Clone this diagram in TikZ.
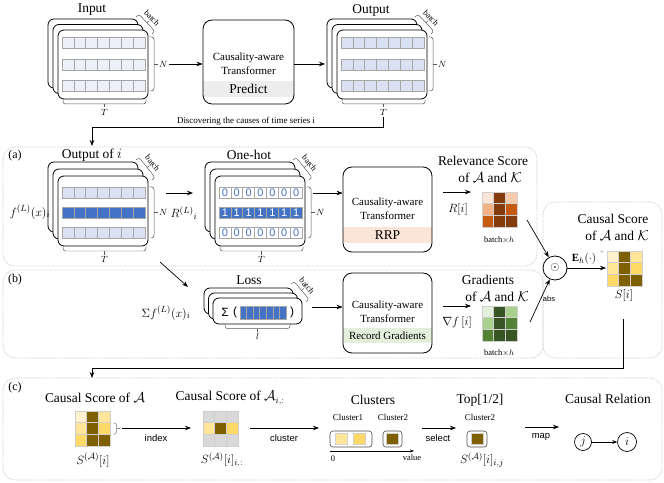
\documentclass[tikz,border=0pt]{standalone}
\usepackage{fontspec}
\setmainfont{Liberation Serif}
\newfontfamily\mysansfam{Liberation Sans}
\usetikzlibrary{arrows.meta,calc,fit}
\definecolor{inpcell}{HTML}{EDF0F7}
\definecolor{outcell}{HTML}{DAE1F3}
\definecolor{dblue}{HTML}{4472C4}
\definecolor{cellborder}{HTML}{A6A6A6}
\definecolor{predband}{HTML}{EDEDED}
\definecolor{rrpband}{HTML}{FBE5D6}
\definecolor{gradband}{HTML}{E2EFDA}
\definecolor{panelgray}{HTML}{CFCFCF}
\definecolor{hmline}{HTML}{D0CECE}
\definecolor{oA}{HTML}{FBE5D6}
\definecolor{oB}{HTML}{F8CBAD}
\definecolor{oC}{HTML}{F4B183}
\definecolor{oD}{HTML}{C55A11}
\definecolor{oE}{HTML}{843C0C}
\definecolor{gA}{HTML}{E2EFDA}
\definecolor{gB}{HTML}{A9D08E}
\definecolor{gC}{HTML}{548235}
\definecolor{gD}{HTML}{375623}
\definecolor{yA}{HTML}{FFF2CC}
\definecolor{yB}{HTML}{FFE699}
\definecolor{yC}{HTML}{FFD966}
\definecolor{yD}{HTML}{7F6000}
\definecolor{cG}{HTML}{D9D9D9}

\newcommand{\myBig}{\fontsize{13.5}{15}\selectfont}
\newcommand{\myTF}{\fontsize{11}{12}\selectfont}
\newcommand{\myMath}{\fontsize{13}{14}\selectfont}
\newcommand{\myLab}{\fontsize{8.5}{9}\selectfont}
\newcommand{\mySmall}{\fontsize{8.5}{9}\selectfont}
\newcommand{\myVar}{\fontsize{9}{10}\selectfont}
\newcommand{\mySansLab}{\mysansfam\fontsize{9.5}{10}\selectfont}
\newcommand{\myAbs}{\mysansfam\fontsize{7.5}{8}\selectfont}
\newcommand{\myDigit}{\mysansfam\fontsize{11}{11}\selectfont}
\newcommand{\mySigma}{\mysansfam\fontsize{12}{13}\selectfont}
\newcommand{\myPanel}{\fontsize{12}{13}\selectfont}
\newcommand{\myDisc}{\fontsize{9}{10}\selectfont}
\newcommand{\myClu}{\fontsize{9}{10}\selectfont}

\newcommand{\stackthree}[6]{%
  \draw[stackbox] ({#1-2*#5},{#2-2*#6}) rectangle ({#3-2*#5},{#4-2*#6});
  \draw[stackbox] ({#1-#5},{#2-#6}) rectangle ({#3-#5},{#4-#6});
  \draw[stackbox] (#1,#2) rectangle (#3,#4);}
\newcommand{\cellrow}[5]{%
  \foreach \q in {0,...,6}{\filldraw[fill=#5, draw=cellborder, line width=0.5pt] ({#1+\q*#3},#2) rectangle ++(#3,#4);}}
\newcommand{\digitrow}[7]{%
  \foreach \q in {0,...,6}{\filldraw[fill=#5, draw=cellborder, line width=0.5pt] ({#1+\q*#3},#2) rectangle ++(#3,#4);
    \node[inner sep=0pt, text=#6, font=\myDigit] (dg#7#2x\q) at ({#1+(\q+0.5)*#3},{#2+#4/2}) {#7};}}
\newcommand{\heatmap}[3]{%
  \foreach \hmc [count=\k from 0] in {#3}{%
    \pgfmathtruncatemacro{\hmr}{\k/3}%
    \pgfmathtruncatemacro{\hmcol}{mod(\k,3)}%
    \filldraw[fill=\hmc, draw=hmline, line width=0.4pt] ({#1+\hmcol*11.67},{#2+\hmr*11.67}) rectangle ++(11.67,11.67);}}
\newcommand{\hbr}[5]{%
  \draw[bracestyle] (#1,#3) -- (#1,{#3+4.5}) -- (#2,{#3+4.5}) -- (#2,#3);
  \draw[bracestyle] ({(#1+#2)/2},{#3+4.5}) -- ({(#1+#2)/2},{#3+8}) node[below, inner sep=1.5pt, font=\myVar] (#4) {#5};}
\newcommand{\vbr}[5]{%
  \draw[bracestyle] (#1,#2) -- ({#1+4.5},#2) -- ({#1+4.5},#3) -- (#1,#3);
  \draw[bracestyle] ({#1+4.5},{(#2+#3)/2}) -- ({#1+8.5},{(#2+#3)/2}) node[right, inner sep=0.8pt, font=\myVar] (#4) {#5};}
\newcommand{\bbr}[6]{%
  \coordinate (bbA) at (#1,#2);
  \coordinate (bbB) at (#3,#4);
  \coordinate (bbM) at ($(bbA)!0.5!(bbB)$);
  \draw[bracestyle] (bbA) -- ($(bbA)!4bp!90:(bbB)$) -- ($(bbB)!4bp!-90:(bbA)$) -- (bbB);
  \draw[bracestyle] ($(bbM)!4bp!90:(bbB)$) -- ($(bbM)!7bp!90:(bbB)$) node[rotate=#5, anchor=south, inner sep=0.8pt, font=\mySmall] (#6) {batch};}

\begin{document}
\begin{tikzpicture}[x=1bp,y=-1bp,
  stackbox/.style={draw, line width=0.8pt, rounded corners=6bp, fill=white},
  tfbox/.style={draw, line width=0.8pt, rounded corners=9bp, inner sep=0pt},
  panel/.style={draw=panelgray, line width=0.7pt, dash pattern=on 1.5pt off 1pt, rounded corners=12bp},
  arr/.style={-{Stealth[length=6bp,width=4.5bp]}, line width=0.7pt},
  bracestyle/.style={draw=black!65, line width=0.5pt, rounded corners=2.5bp},
  clubox/.style={draw=black!70, line width=0.6pt, rounded corners=3bp, inner sep=0pt},
  smallcell/.style={draw=hmline, line width=0.4pt},
  every node/.append style={inner sep=1.5pt}]
\useasboundingbox (0,0) rectangle (664,483);

% ---------- panels
\draw[panel] (3,147) rectangle (537,266);
\draw[panel] (3,270) rectangle (543,358);
\draw[panel] (543,202) rectangle (662,358);
\draw[panel] (3,378) rectangle (662,480);
\node[font=\myPanel] (pa) at (15,156) {(a)};
\node[font=\myPanel] (pb) at (15,280) {(b)};
\node[font=\myPanel] (pc) at (15,388) {(c)};

% ---------- top row: Input
\node[font=\myBig] (inlab) at (92,10) {Input};
\stackthree{58}{30}{148}{99}{5}{5.5}
\cellrow{62}{37}{11.86}{11}{inpcell}
\cellrow{62}{59}{11.86}{11}{inpcell}
\cellrow{62}{80}{11.86}{11}{inpcell}
\vbr{149.5}{37}{91}{inN}{$N$}
\hbr{63}{146}{99.5}{inT}{$T$}
\bbr{136}{17}{152}{34}{-47}{inB}

% Predict box
\begin{scope}
\clip[rounded corners=9bp] (203,20) rectangle (294,104);
\fill[predband] (203,81) rectangle (294,97);
\end{scope}
\node[tfbox, fit={(203,20) (294,104)}] (pred) {};
\node[font=\myTF] (predt1) at (248.5,58) {Causality-aware};
\node[font=\myTF] (predt2) at (248.5,71) {Transformer};
\node[font=\myBig] (predt3) at (248.5,89) {Predict};

% Output
\node[font=\myBig] (outlab) at (371,10) {Output};
\stackthree{337}{30}{427}{99}{5}{5.5}
\cellrow{341}{37}{11.86}{11}{outcell}
\cellrow{341}{59}{11.86}{11}{outcell}
\cellrow{341}{80}{11.86}{11}{outcell}
\vbr{428.5}{37}{91}{outN}{$N$}
\hbr{342}{425}{99.5}{outT}{$T$}
\bbr{415}{17}{431}{34}{-47}{outB}

\coordinate (inArr) at (169,64);
\draw[arr] (inArr) -- (inArr -| pred.west);
\coordinate (outArr) at (325,64);
\draw[arr] (outArr -| pred.east) -- (outArr);

\node[font=\myDisc] (disc) at (246,121) {Discovering the causes of time series i};
\coordinate (bend1) at (92,127);
\coordinate (aTop) at (92,146);
\draw[line width=0.7pt] (outT.south) |- (bend1);
\draw[arr] (bend1) -- (aTop);

% ---------- panel (a)
\node[font=\myBig] (oilab) at (92,155) {Output of $i$};
\stackthree{58}{176}{148}{246}{5}{7}
\cellrow{62}{187}{11.86}{11}{outcell}
\cellrow{62}{207}{11.86}{11}{dblue}
\cellrow{62}{227}{11.86}{11}{outcell}
\vbr{149.5}{187}{238}{oiN}{$N$}
\hbr{63}{146}{246.5}{oiT}{$T$}
\bbr{136}{160}{152}{180}{-52}{oiB}
\node[font=\myMath] (flab) at (30,212) {$f^{(L)}(x)_i$};

\node[font=\myBig] (ohlab) at (249,155) {One-hot};
\stackthree{215}{176}{305}{246}{5}{7}
\digitrow{219}{187}{11.86}{11}{white}{dblue}{0}
\digitrow{219}{207}{11.86}{11}{dblue}{white}{1}
\digitrow{219}{227}{11.86}{11}{white}{dblue}{0}
\vbr{306.5}{187}{238}{ohN}{$N$}
\hbr{220}{303}{246.5}{ohT}{$T$}
\bbr{293}{160}{309}{180}{-52}{ohB}
\node[font=\myMath] (rlab) at (184,213) {$R^{(L)}{}_i$};

\coordinate (a1s) at (166,193);
\coordinate (a1e) at (193,193);
\draw[arr] (a1s) -- (a1e);

% RRP box
\begin{scope}
\clip[rounded corners=9bp] (343,167) rectangle (432,252);
\fill[rrpband] (343,227) rectangle (432,243);
\end{scope}
\node[tfbox, fit={(343,167) (432,252)}] (rrp) {};
\node[font=\myTF] (rrpt1) at (387.5,203) {Causality-aware};
\node[font=\myTF] (rrpt2) at (387.5,216) {Transformer};
\node[font=\myBig] (rrpt3) at (387.5,235) {RRP};
\coordinate (a2s) at (313,193);
\draw[arr] (a2s) -- (a2s -| rrp.west);

% Relevance
\node[font=\myBig] (rel1) at (483,161) {Relevance Score};
\node[font=\myBig] (rel2) at (490,178) {of $\mathcal{A}$ and $\mathcal{K}$};
\coordinate (a3s) at (443,192);
\coordinate (a3e) at (471,192);
\draw[arr] (a3s) -- (a3e);
\node[font=\myMath] (rilab) at (458,210) {$R[i]$};
\heatmap{482}{192}{oA,oE,oB,oC,oE,oD,oD,oE,oE}
\node[font=\myLab] (bh1) at (499,240) {batch$\times h$};

% ---------- panel (b)
\node[font=\myBig] (losslab) at (249,280) {Loss};
\stackthree{213}{298}{302}{324}{4.5}{5}
\node[font=\mySigma] (sig) at (225,312) {Σ};
\node[font=\mySigma] (lpar) at (235,312) {(};
\foreach \q in {0,...,6}{\filldraw[fill=dblue, draw=cellborder, line width=0.5pt] ({240+\q*6.57},306) rectangle ++(6.57,13);}
\node[font=\mySigma] (rpar) at (292,312) {)};
\hbr{225}{290}{324}{lossL}{$l$}
\bbr{291}{284}{306}{302}{-50}{lossB}
\node[font=\myMath] (sflab) at (166,313) {$\Sigma f^{(L)}(x)_i$};

\coordinate (a5s) at (160,262);
\coordinate (a5e) at (188,287);
\draw[arr] (a5s) -- (a5e);

\begin{scope}
\clip[rounded corners=9bp] (343,273) rectangle (432,353);
\fill[gradband] (343,328) rectangle (432,343);
\end{scope}
\node[tfbox, fit={(343,273) (432,353)}] (rg) {};
\node[font=\myTF] (rgt1) at (387.5,306) {Causality-aware};
\node[font=\myTF] (rgt2) at (387.5,319) {Transformer};
\node[font=\myTF] (rgt3) at (387.5,335.5) {Record Gradients};
\coordinate (a6s) at (312,307);
\draw[arr] (a6s) -- (a6s -| rg.west);

\node[font=\myBig] (gr1) at (488,280) {Gradients};
\node[font=\myBig] (gr2) at (497,297) {of $\mathcal{A}$ and $\mathcal{K}$};
\coordinate (a7s) at (443,306);
\coordinate (a7e) at (471,306);
\draw[arr] (a7s) -- (a7e);
\node[font=\myMath] (gilab) at (457,323) {$\nabla f\,[i]$};
\heatmap{482}{306}{gA,gD,gB,gB,gD,gC,gC,gD,gD}
\node[font=\myLab] (bh2) at (499,353) {batch$\times h$};

% ---------- causal score
\node[circle, draw, line width=0.8pt, minimum size=24bp, inner sep=0pt, fill=white, font=\myMath] (odot) at (555,268) {$\odot$};
\coordinate (a4s) at (527,220);
\draw[arr] (a4s) -- (odot);
\coordinate (a8s) at (530,322);
\draw[arr] (a8s) -- (odot);
\node[font=\myAbs] (abslab) at (549,299) {abs};

\node[font=\myBig] (cs1) at (613,219) {Causal Score};
\node[font=\myBig] (cs2) at (617,236) {of $\mathcal{A}$ and $\mathcal{K}$};
\coordinate (sIn) at (606,268);
\draw[arr] (odot) -- (sIn);
\node[font=\myTF] (ehlab) at (584,259) {$\mathbf{E}_h(\cdot)$};
\node[font=\fontsize{7}{7}\selectfont, text=gray] (plus) at (602,253) {+};
\heatmap{607}{251}{yA,yD,yB,yB,yD,yC,yC,yD,yD}
\node[font=\myMath] (silab) at (624,296) {$S[i]$};

\coordinate (sOut) at (623,319);
\coordinate (bend2) at (92,368);
\coordinate (cTop) at (92,378);
\draw[line width=0.7pt] (sOut) |- (bend2);
\draw[arr] (bend2) -- (cTop);

% ---------- panel (c)
\node[font=\myBig] (c1lab) at (95,398) {Causal Score of $\mathcal{A}$};
\heatmap{75}{411}{yA,yD,yB,yB,yD,yC,yC,yD,yD}
\draw[bracestyle, draw=gray, rounded corners=2bp] (113,423) -- (116.5,423) -- (116.5,434) -- (113,434);
\draw[bracestyle, draw=gray] (116.5,428.5) -- (119.5,428.5);
\node[font=\myMath] (c1s) at (93,460) {$S^{(\mathcal{A})}[i]$};

\coordinate (a9s) at (122,428);
\coordinate (a9e) at (191,428);
\draw[arr] (a9s) -- (a9e);
\node[font=\mySansLab] (idxlab) at (156,438) {index};

\node[font=\myBig] (c2lab) at (230,398) {Causal Score of $\mathcal{A}_{i,:}$};
\heatmap{203}{411}{cG,cG,cG,yB,yD,yC,cG,cG,cG}
\node[font=\myMath] (c2s) at (222,460) {$S^{(\mathcal{A})}[i]_{i,:}$};

\coordinate (a10s) at (250,428);
\coordinate (a10e) at (319,428);
\draw[arr] (a10s) -- (a10e);
\node[font=\mySansLab] (clulab) at (284,438) {cluster};

\node[font=\myBig] (c3lab) at (373,400) {Clusters};
\node[font=\myClu] (cl1t) at (348,417) {Cluster1};
\node[font=\myClu] (cl2t) at (393,417) {Cluster2};
\node[clubox, fit={(330,431) (372,447)}] (cl1) {};
\filldraw[fill=yB, smallcell] (335,433.5) rectangle (347,444.5);
\filldraw[fill=yC, smallcell] (353,433.5) rectangle (365,444.5);
\node[clubox, fit={(383,431) (402,447)}] (cl2) {};
\filldraw[fill=yD, smallcell] (386.5,433.5) rectangle (398.5,444.5);
\coordinate (ax0) at (330,451);
\coordinate (ax1) at (414,451);
\draw[-{Stealth[length=4bp,width=3bp]}, line width=0.5pt] (ax0) -- (ax1);
\node[font=\myLab] (ax0lab) at (333,459) {0};
\node[font=\myLab] (ax1lab) at (412,458) {value};

\coordinate (a11s) at (422,428);
\coordinate (a11e) at (456,428);
\draw[arr] (a11s) -- (a11e);
\node[font=\mySansLab] (sellab) at (438,438) {select};

\node[font=\myBig] (c4lab) at (480,400) {Top[1/2]};
\node[font=\myClu] (cl3t) at (480,417) {Cluster2};
\node[clubox, fit={(467,431) (487,447)}] (cl3) {};
\filldraw[fill=yD, smallcell] (471,433.5) rectangle (483,444.5);
\node[font=\myMath] (c4s) at (482,460) {$S^{(\mathcal{A})}[i]_{i,j}$};

\coordinate (a12s) at (525,427);
\coordinate (a12e) at (559,427);
\draw[arr] (a12s) -- (a12e);
\node[font=\mySansLab] (maplab) at (541,437) {map};

\node[font=\myBig] (c5lab) at (608,399) {Causal Relation};
\node[circle, draw, line width=0.7pt, minimum size=17bp, inner sep=0pt, font=\myMath] (nj) at (583,442) {$j$};
\node[circle, draw, line width=0.7pt, minimum size=19bp, inner sep=0pt, font=\myMath] (ni) at (627,442) {$i$};
\draw[-{Stealth[length=5bp,width=4bp]}, line width=0.7pt] (nj) -- (ni);
\end{tikzpicture}
\end{document}
